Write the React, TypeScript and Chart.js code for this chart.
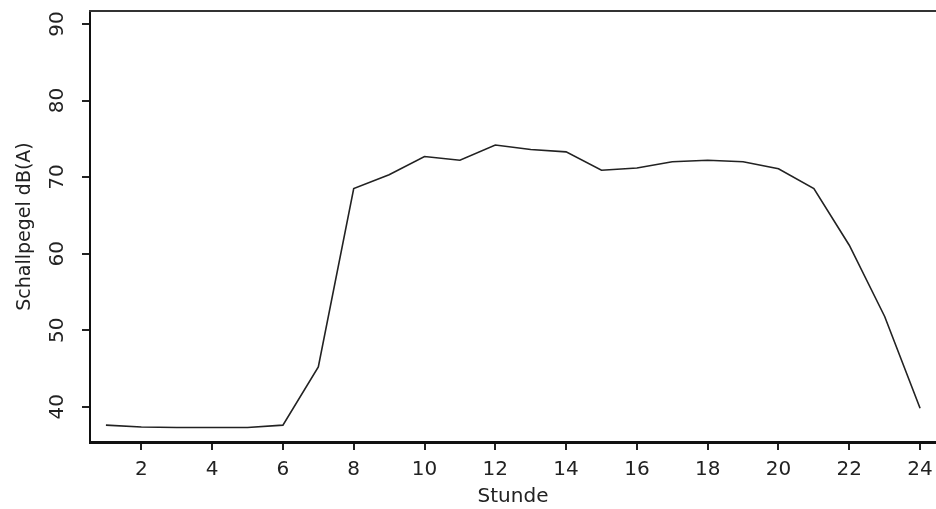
import React, { useEffect, useRef } from "react";
import { Chart, registerables } from "chart.js";

Chart.register(...registerables);

// ---- data ----
const hours = [1, 2, 3, 4, 5, 6, 7, 8, 9, 10, 11, 12, 13, 14, 15, 16, 17, 18, 19, 20, 21, 22, 23, 24];
const levels = [
  37.6, 37.35, 37.3, 37.3, 37.3, 37.6, 45.2, 68.5, 70.3, 72.7, 72.2, 74.2,
  73.6, 73.3, 70.9, 71.2, 72.0, 72.2, 72.0, 71.1, 68.5, 61.1, 51.8, 39.8,
];
const xTickValues = [2, 4, 6, 8, 10, 12, 14, 16, 18, 20, 22, 24];
const yTickValues = [40, 50, 60, 70, 80, 90];
const xTitle = "Stunde";
const yTitle = "Schallpegel dB(A)";

const FONT_FAMILY = '"DejaVu Sans", "Liberation Sans", sans-serif';
const FONT_SIZE = 20;

export default function App() {
  const canvasRef = useRef<HTMLCanvasElement>(null);

  useEffect(() => {
    if (!canvasRef.current) return;

    const framePlugin = {
      id: "framePlugin",
      afterDraw(chart: any) {
        const { ctx, chartArea } = chart;
        ctx.save();
        // top frame line
        ctx.strokeStyle = "#333";
        ctx.lineWidth = 2;
        ctx.beginPath();
        ctx.moveTo(chartArea.left - 1, chartArea.top);
        ctx.lineTo(chartArea.right, chartArea.top);
        ctx.stroke();
        // rotated y tick labels
        const ys = chart.scales.y;
        ctx.fillStyle = "#222";
        ctx.font = `${FONT_SIZE}px ${FONT_FAMILY}`;
        ctx.textAlign = "center";
        ctx.textBaseline = "middle";
        ys.ticks.forEach((t: any) => {
          const py = ys.getPixelForValue(t.value);
          ctx.save();
          ctx.translate(ys.right - 32, py);
          ctx.rotate(-Math.PI / 2);
          ctx.fillText(String(t.value), 0, 0);
          ctx.restore();
        });
        ctx.restore();
      },
    };

    const chart = new Chart(canvasRef.current, {
      type: "line",
      data: {
        datasets: [
          {
            data: hours.map((h, i) => ({ x: h, y: levels[i] })),
            borderColor: "#222",
            borderWidth: 1.6,
            pointRadius: 0,
            tension: 0,
            fill: false,
          },
        ],
      },
      options: {
        animation: false,
        responsive: false,
        devicePixelRatio: 1,
        layout: { padding: { left: 14, right: 0, top: 11, bottom: 0 } },
        plugins: {
          legend: { display: false },
          tooltip: { enabled: false },
        },
        scales: {
          x: {
            type: "linear",
            min: 0.55,
            max: 24.45,
            afterBuildTicks: (scale: any) => {
              scale.ticks = xTickValues.map((v) => ({ value: v }));
            },
            afterFit: (scale: any) => {
              scale.height = 67;
              scale.paddingLeft = 0;
              scale.paddingRight = 0;
            },
            grid: {
              display: true,
              drawOnChartArea: false,
              drawTicks: true,
              tickLength: 8,
              color: "#222",
              lineWidth: 2,
            },
            border: { display: true, color: "#111", width: 3 },
            ticks: {
              color: "#222",
              font: { family: FONT_FAMILY, size: FONT_SIZE },
              padding: 8,
              maxRotation: 0,
              autoSkip: false,
            },
            title: {
              display: true,
              text: xTitle,
              color: "#222",
              padding: { top: 0, bottom: 0 },
              font: { family: FONT_FAMILY, size: FONT_SIZE },
            },
          },
          y: {
            type: "linear",
            min: 35.4,
            max: 91.7,
            afterBuildTicks: (scale: any) => {
              scale.ticks = yTickValues.map((v) => ({ value: v }));
            },
            afterFit: (scale: any) => {
              scale.width = 76;
              scale.paddingTop = 0;
              scale.paddingBottom = 0;
            },
            grid: {
              display: true,
              drawOnChartArea: false,
              drawTicks: true,
              tickLength: 8,
              color: "#222",
              lineWidth: 2,
            },
            border: { display: true, color: "#111", width: 2 },
            ticks: { display: false },
            title: {
              display: true,
              text: yTitle,
              color: "#222",
              padding: { top: 0, bottom: 0 },
              font: { family: FONT_FAMILY, size: 19 },
            },
          },
        },
      },
      plugins: [framePlugin],
    });

    return () => chart.destroy();
  }, []);

  return (
    <div style={{ position: "fixed", left: 0, top: 0, width: 936, height: 509, background: "#fff" }}>
      <canvas ref={canvasRef} width={936} height={509} style={{ display: "block" }} />
    </div>
  );
}
